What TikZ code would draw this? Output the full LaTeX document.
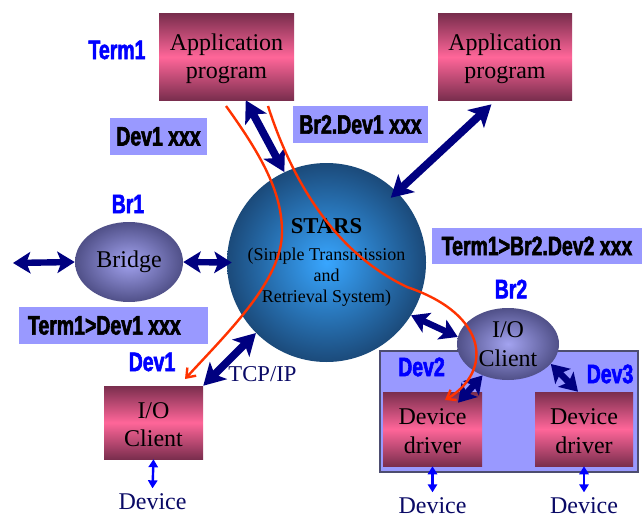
\documentclass[tikz,border=0pt]{standalone}
\usepackage{fontspec}
\setmainfont{Liberation Serif}
\newfontfamily\tagfont[FakeStretch=0.73,FakeBold=2.2]{Liberation Sans}
\usetikzlibrary{arrows.meta,shapes.geometric}

\definecolor{pinkdark}{HTML}{7A2E4E}
\definecolor{pinkmid}{HTML}{FF6699}
\definecolor{lav}{HTML}{9999FF}
\definecolor{navyarrow}{HTML}{000080}
\definecolor{ballin}{HTML}{38A6FF}
\definecolor{ballout}{HTML}{1B4A7A}
\definecolor{ellin}{HTML}{A3A3F0}
\definecolor{ellout}{HTML}{505088}
\definecolor{routecol}{HTML}{FF3300}
\definecolor{devtext}{HTML}{0A0A66}
\definecolor{groupline}{HTML}{4D4D70}

\begin{document}
\begin{tikzpicture}[x=0.75pt,y=-0.75pt,
  pinkbox/.style={rectangle, top color=pinkdark, bottom color=pinkdark,
    middle color=pinkmid, align=center, inner sep=0pt,
    font=\fontsize{18}{21.5}\selectfont},
  tagbox/.style={rectangle, fill=lav, inner sep=0pt,
    font=\fontsize{20}{22}\selectfont\tagfont\bfseries},
  tag/.style={text=blue, inner sep=0pt,
    font=\fontsize{20}{22}\selectfont\tagfont\bfseries},
  oval/.style={ellipse, inner sep=0pt, align=center,
    inner color=ellin, outer color=ellout,
    font=\fontsize{18}{21.5}\selectfont},
  devlabel/.style={text=devtext, inner sep=4pt,
    font=\fontsize{18}{21.5}\selectfont},
  bigarrow/.style={draw=navyarrow, line width=5.8pt,
    {Stealth[length=16pt,width=18pt,inset=4pt]}-{Stealth[length=16pt,width=18pt,inset=4pt]}},
  midarrow/.style={draw=navyarrow, line width=4.8pt,
    {Stealth[length=13pt,width=16pt,inset=3pt]}-{Stealth[length=13pt,width=16pt,inset=3pt]}},
  devarrow/.style={draw=blue, line width=1.8pt,
    {Triangle[length=6pt,width=7pt]}-{Triangle[length=6pt,width=7pt]}},
  routeline/.style={draw=routecol, line width=1.8pt,
    -{Straight Barb[length=6pt,width=9pt]}}
]
\useasboundingbox (0,0) rectangle (642,517);

% device group behind the second I/O client
\node[rectangle, fill=lav, draw=groupline, line width=0.8pt,
  minimum width=193.5pt, minimum height=90.75pt] (group) at (509,411.5) {};

% application programs
\node[pinkbox, minimum width=101.25pt, minimum height=64.5pt] (app1) at (226.5,57) {\rule{0pt}{15pt}Application\\program};
\node[pinkbox, minimum width=100.5pt, minimum height=64.5pt] (app2) at (505,57) {\rule{0pt}{15pt}Application\\program};

% I/O client on Dev1 and the two device drivers
\node[pinkbox, minimum width=74.25pt, minimum height=54.75pt] (io1) at (153.5,422.5) {\rule{0pt}{15pt}I/O\\Client};
\node[pinkbox, minimum width=74.25pt, minimum height=55.5pt] (driver1) at (432.5,429) {\rule{0pt}{15pt}Device\\driver};
\node[pinkbox, minimum width=73.5pt, minimum height=55.5pt] (driver2) at (584,429) {\rule{0pt}{15pt}Device\\driver};

% central server
\node[circle, minimum size=149.25pt, inner sep=0pt, inner color=ballin, outer color=ballout,
  align=center, font=\fontsize{13.5}{16}\selectfont] (ball) at (326.5,262.5)
  {{\fontsize{17}{20}\selectfont\bfseries STARS}\\[4pt](Simple Transmission\\and\\Retrieval System)};

% bridge and second I/O client
\node[oval, minimum width=81pt, minimum height=60pt] (bridge) at (129,262) {Bridge};
\node[oval, minimum width=76.5pt, minimum height=54pt] (client) at (508,344) {I/O\\Client};

% message boxes
\node[tagbox, minimum width=72.75pt, minimum height=27.75pt] (msgdev1) at (158.5,136.5) {Dev1 xxx};
\node[tagbox, minimum width=101.25pt, minimum height=27.75pt] (msgbr2) at (360.5,124.5) {Br2.Dev1 xxx};
\node[tagbox, minimum width=141.75pt, minimum height=27.75pt] (msgterm1) at (113.5,325.5) {\makebox[128.25pt][l]{Term1>Dev1 xxx}};
\node[tagbox, minimum width=157.5pt, minimum height=27pt] (msgterm2) at (537,246) {Term1>Br2.Dev2 xxx};

% host names
\node[tag] (lblterm1) at (117,50) {Term1};
\node[tag] (lblbr1) at (128,204) {Br1};
\node[tag] (lbldev1) at (152,362) {Dev1};
\node[tag] (lblbr2) at (511,289) {Br2};
\node[tag] (lbldev2) at (421.5,367) {Dev2};
\node[tag] (lbldev3) at (610,374) {Dev3};

\node[text=devtext, inner sep=0pt, font=\fontsize{17}{20}\selectfont] (tcpip) at (262.5,374) {TCP/IP};

% devices
\node[devlabel] (devA) at (152.5,502) {Device};
\node[devlabel] (devB) at (432.5,506) {Device};
\node[devlabel] (devC) at (584,506) {Device};
\draw[devarrow] (io1.south) -- (devA.north);
\draw[devarrow] (driver1.south) -- (devB.north);
\draw[devarrow] (driver2.south) -- (devC.north);

% network links
\coordinate (bfar) at (13,263);
\draw[bigarrow] (app1.-66.7) -- (ball.115);
\draw[bigarrow, shorten <=4.5pt, shorten >=-6.4pt] (app2.-102.7) -- (ball.45.9);
\draw[midarrow] (bfar) -- (bridge.west);
\draw[midarrow, shorten >=-3.75pt] (bridge.east) -- (ball.west);
\draw[bigarrow] (io1.north east) -- (ball.225);
\draw[midarrow] (ball.-32) -- (client.172);
\draw[midarrow] (client.231) -- ([xshift=19.1pt,yshift=-8.25pt]driver1.north);
\draw[midarrow] (client.-25) -- ([xshift=-4.5pt]driver2.north);

% message routes
\coordinate (ra0) at (226,106);
\coordinate (ra1) at (282,232);
\coordinate (ra2) at (185,379);
\draw[routeline] (ra0) .. controls (265,160) and (282,195) .. (ra1)
  .. controls (282,280) and (230,330) .. (ra2);
\coordinate (rb0) at (268,106);
\coordinate (rb1) at (407,287);
\coordinate (rb2) at (445,400);
\draw[routeline] (rb0) .. controls (295,190) and (340,255) .. (rb1)
  .. controls (490,315) and (492,372) .. (rb2);
\end{tikzpicture}
\end{document}
